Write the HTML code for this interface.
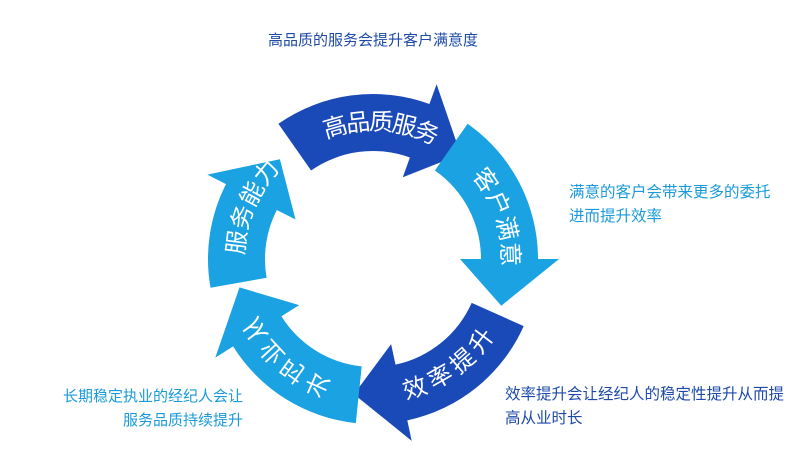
<!DOCTYPE html>
<html><head><meta charset="utf-8">
<style>
html,body{margin:0;padding:0;background:#fff;}
#wrap{position:relative;width:800px;height:473px;overflow:hidden;font-family:"Liberation Sans","Noto Sans CJK SC",sans-serif;}
.t{position:absolute;font-size:15px;white-space:nowrap;line-height:24px;}
.d{color:#1d4aa8;}
.l{color:#1a9ad8;}
</style></head>
<body><div id="wrap">
<svg id="s" width="800" height="473" style="position:absolute;left:0;top:0"></svg>
<div class="t d" style="left:268px;top:29px;">高品质的服务会提升客户满意度</div>
<div class="t l" style="left:569px;top:181px;font-size:15.5px;">满意的客户会带来更多的委托<br>进而提升效率</div>
<div class="t d" style="left:505px;top:383px;font-size:15.5px;">效率提升会让经纪人的稳定性提升从而提<br>高从业时长</div>
<div class="t l" style="right:557px;top:385px;text-align:right;">长期稳定执业的经纪人会让<br>服务品质持续提升</div>
</div>
<script>
var cx=373,cy=259,Ri=108,Ro=165,H=21;
var s=document.getElementById('s');
function P(a,r){var t=a*Math.PI/180;return [(cx+r*Math.cos(t)).toFixed(1),(cy-r*Math.sin(t)).toFixed(1)];}
function arrow(a0,a1,col){
 var ah=a1+20,rm=(Ri+Ro)/2;
 var p0=P(a0,Ro),p1=P(ah,Ro),p2=P(ah,Ro+H),p3=P(a1,rm),p4=P(ah,Ri-H),p5=P(ah,Ri),p6=P(a0,Ri);
 var d='M'+p0+' A'+Ro+','+Ro+' 0 0 1 '+p1+' L'+p2+' L'+p3+' L'+p4+' L'+p5+' A'+Ri+','+Ri+' 0 0 0 '+p6+' Z';
 s.innerHTML+='<path d="'+d+'" fill="'+col+'"/>';
}
var D='#1a4ab8',L='#1aa2e2';
arrow(190,133,L);
arrow(125,50,D);
arrow(55,-20,L);
arrow(-24,-98,D);
arrow(-96,-168,L);
function txt(str,a0,a1,mode){
 var n=str.length,rm=(Ri+Ro)/2,out='';
 for(var i=0;i<n;i++){
  var a=a0+(a1-a0)*(n==1?0:i/(n-1));
  var p=P(a,rm),tr;
  if(mode=='out') tr='rotate('+(90-a)+')';
  else if(mode=='in') tr='rotate('+(-90-a)+')';
  else tr='rotate('+(-90-a)+') scale(1,-1)';
  out+='<text x="0" y="0" transform="translate('+p[0]+','+p[1]+') '+tr+'" text-anchor="middle" dominant-baseline="central" font-size="24" fill="#fff" font-family="Liberation Sans, Noto Sans CJK SC, sans-serif">'+str[i]+'</text>';
 }
 s.innerHTML+=out;
}
txt('高品质服务',106,67,'out');
txt('客户满意',35,2,'out');
txt('效率提升',-72,-37,'in');
txt('从业时长',-149,-114,'flip');
txt('服务能力',173,141,'out');
</script>
</body></html>
